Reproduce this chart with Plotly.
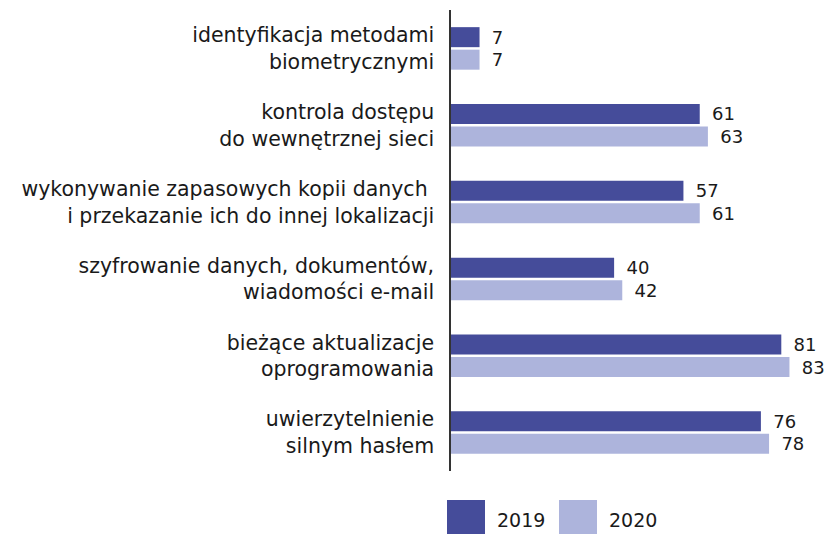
import plotly.graph_objects as go

categories = [
    "identyfikacja metodami<br>biometrycznymi",
    "kontrola dostępu<br>do wewnętrznej sieci",
    "wykonywanie zapasowych kopii danych <br>i przekazanie ich do innej lokalizacji",
    "szyfrowanie danych, dokumentów,<br>wiadomości e-mail",
    "bieżące aktualizacje<br>oprogramowania",
    "uwierzytelnienie<br>silnym hasłem",
]
values_2019 = [7, 61, 57, 40, 81, 76]
values_2020 = [7, 63, 61, 42, 83, 78]
series_names = ["2019", "2020"]

DARK = "#454c9a"
LIGHT = "#adb4dc"
TXT = "#1a1a1a"
FONT = "DejaVu Sans"

W, H = 831, 534
L, R, T, B = 451, 13, 10, 63
PW, PH = W - L - R, H - T - B

fig = go.Figure()
for name, vals, col in [(series_names[0], values_2019, DARK), (series_names[1], values_2020, LIGHT)]:
    fig.add_trace(go.Bar(
        y=categories, x=vals, orientation="h", name=name,
        marker=dict(color=col, line=dict(width=0)),
        text=[f"\u00a0\u2009{v}" for v in vals], textposition="outside",
        constraintext="none",
        textfont=dict(family=FONT, size=18, color=TXT),
        cliponaxis=False, showlegend=False,
    ))

# custom legend (large squares)
def px2x(px):
    return (px - L) / PW

def py2y(py):
    return (H - B - py) / PH

legend_items = [(series_names[0], DARK, 447), (series_names[1], LIGHT, 559)]
for name, col, x0 in legend_items:
    fig.add_shape(type="rect", xref="paper", yref="paper",
                  x0=px2x(x0), x1=px2x(x0 + 38), y0=py2y(500), y1=py2y(536),
                  fillcolor=col, line=dict(width=0), layer="above")
    fig.add_annotation(xref="paper", yref="paper", x=px2x(x0 + 48), y=py2y(520),
                       text=name, showarrow=False, xanchor="left", yanchor="middle",
                       font=dict(family=FONT, size=19, color=TXT))

fig.update_layout(
    width=W, height=H,
    margin=dict(l=L, r=R, t=T, b=B, autoexpand=False),
    paper_bgcolor="white", plot_bgcolor="white",
    barmode="group", bargap=0.414, bargroupgap=0.111,
    font=dict(family=FONT, size=20.5, color=TXT),
    showlegend=False,
)
fig.update_xaxes(range=[0, 90], visible=False, showgrid=False, zeroline=False)
fig.update_yaxes(autorange="reversed", showline=True, linecolor="#333333", linewidth=1.5,
                 showgrid=False, zeroline=False, ticks="", ticklabelstandoff=11,
                 tickfont=dict(family=FONT, size=20.5, color=TXT))

fig.write_html("out.html", config={"displayModeBar": False},
               post_script="document.body.style.margin='0';document.body.style.overflow='hidden';")
